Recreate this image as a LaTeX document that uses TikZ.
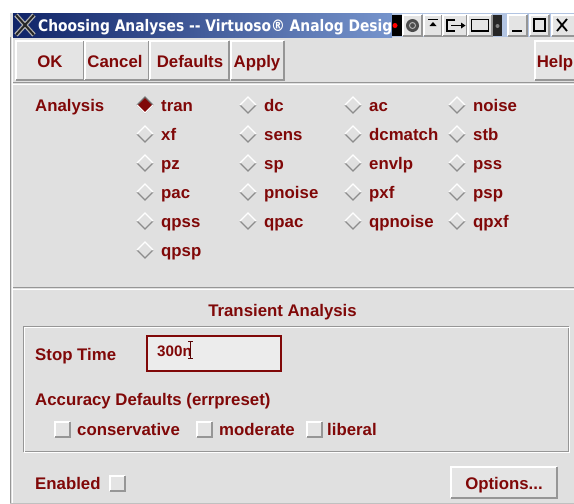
\documentclass[tikz,border=0pt]{standalone}
\usepackage{fontspec}
\setmainfont{Liberation Sans}
\newfontfamily\titlefont[FakeStretch=0.87]{DejaVu Sans}

\definecolor{guitext}{RGB}{128,8,8}
\definecolor{guibg}{RGB}{224,224,224}
\definecolor{guidark}{RGB}{150,150,150}
\definecolor{guibtn}{RGB}{228,228,228}
\definecolor{titleleft}{RGB}{16,36,104}
\definecolor{titleright}{RGB}{118,148,204}
\definecolor{titleicon}{RGB}{178,196,226}

\tikzset{
  lbl/.style={anchor=base west, inner sep=0pt, text=guitext,
    font=\fontsize{16.8}{18}\selectfont\bfseries},
  btnlbl/.style={lbl, anchor=base},
  radiohi/.style={draw=white, line width=1.3},
  radiolo/.style={draw=black!45, line width=1.3},
  etched/.style={draw=guidark, line width=1}
}

% raised box: x1 y1 x2 y2
\newcommand\bevelbox[4]{%
  \fill[guibtn] (#1,#2) rectangle (#3,#4);
  \draw[white, line width=1.2] (#1,#4) -- (#1,#2) -- (#3,#2);
  \draw[guidark, line width=1.2] (#3,#2) -- (#3,#4) -- (#1,#4);
}

\begin{document}
\begin{tikzpicture}[x=1pt,y=-1pt]
  \useasboundingbox (0,0) rectangle (574,504);
  \clip (0,0) rectangle (574,504);
  \fill[white] (0,0) rectangle (574,504);

  % window body
  \fill[guibg] (10,13) rectangle (574,504);
  \draw[guidark] (10.5,37) -- (10.5,504);
  \draw[white] (12,37) -- (12,504);

  % title bar
  \shade[left color=titleleft, right color=titleright] (13,13) rectangle (392,37);
  \fill[titleicon] (392,13) rectangle (574,37);
  \draw[line width=4.5, black!30] (16,15) -- (34,35) (34,15) -- (16,35);
  \draw[line width=2, black!85] (16,15) -- (34,35) (34,15) -- (16,35);
  \begin{scope}
    \clip (13,13) rectangle (392,37);
    \node[anchor=base west, inner sep=0pt, text=white,
      font=\titlefont\bfseries\fontsize{15.9}{17}\selectfont]
      (title) at (38,31) {Choosing Analyses -\kern0pt- Virtuoso® Analog Desig};
  \end{scope}

  % window icons
  \fill[black] (392,15) rectangle (402,36);
  \fill[red] (395,25.5) circle (2.5);
  \bevelbox{403}{15}{422}{36}
  \fill[black!70] (412.5,25.5) circle (6.5);
  \draw[black!30, line width=1] (412.5,25.5) circle (3);
  \bevelbox{424}{15}{442}{36}
  \draw[line width=1.2] (428,19.5) -- (438,19.5);
  \fill (429.5,26) -- (436.5,26) -- (433,22) -- cycle;
  \bevelbox{443}{15}{467}{36}
  \draw[line width=1.1] (455,20) -- (447,20) -- (447,31) -- (455,31);
  \draw[line width=1.2] (451,25.5) -- (462,25.5);
  \fill (461,22.5) -- (465.5,25.5) -- (461,28.5) -- cycle;
  \bevelbox{468}{15}{492}{36}
  \draw[line width=1.2] (471.5,19.5) rectangle (488.5,31);
  \fill[black!85] (493,15) rectangle (502,36);
  \fill[gray] (497.5,26) circle (2);
  \bevelbox{508}{15}{527}{36}
  \draw[line width=2] (512,31) -- (522,31);
  \bevelbox{530}{15}{549}{36}
  \draw[line width=1.3] (534,19) rectangle (545,31);
  \bevelbox{552}{15}{576}{36}
  \draw[line width=1.8] (557,19) -- (567,31) (567,19) -- (557,31);

  % button row
  \bevelbox{16}{41}{84}{80}
  \bevelbox{85}{41}{149}{80}
  \bevelbox{150}{41}{229}{80}
  \bevelbox{231}{41}{284}{80}
  \bevelbox{535}{41}{580}{80}
  \node[btnlbl] (ok) at (50,67) {OK};
  \node[btnlbl] (cancel) at (115,67) {Cancel};
  \node[btnlbl] (defaults) at (190,67) {Defaults};
  \node[btnlbl] (apply) at (257,67) {Apply};
  \node[btnlbl] (help) at (555,67) {Help};
  \draw[etched] (13,82.5) -- (574,82.5);
  \draw[white] (13,83.7) -- (574,83.7);

  % analysis choice
  \node[lbl] (analysis) at (35,111.5) {Analysis};
  \foreach \nm/\cx/\cy in {tran/145/105, xf/145/134, pz/145/163, pac/145/192,
      qpss/145/221, qpsp/145/250, dc/248/105, sens/248/134, sp/248/163,
      pnoise/248/192, qpac/248/221, ac/353/105, dcmatch/353/134, envlp/353/163,
      pxf/353/192, qpnoise/353/221, noise/457/105, stb/457/134, pss/457/163,
      psp/457/192, qpxf/457/221}
  {
    \draw[radiolo] (\cx-8,\cy) -- (\cx,\cy+8) -- (\cx+8,\cy);
    \draw[radiohi] (\cx-8,\cy) -- (\cx,\cy-8) -- (\cx+8,\cy);
    \node[lbl] (\nm) at (\cx+16,\cy+6.5) {\nm};
  }
  % selected one
  \fill[guitext] (137,105) -- (145,97) -- (153,105) -- (145,113) -- cycle;
  \draw[black!55, line width=1.3] (137,105) -- (145,97) -- (153,105);
  \draw[white, line width=1.3] (137,105) -- (145,113) -- (153,105);

  \draw[etched] (13,287.5) -- (574,287.5);
  \draw[white] (13,288.7) -- (574,288.7);

  % transient options
  \node[btnlbl] (transient) at (282.5,316) {Transient Analysis};
  \draw[etched] (23,326) rectangle (568,451);
  \draw[white] (24.2,327.2) rectangle (569.2,452.2);

  \node[lbl] (stoptime) at (35,360) {Stop Time};
  \draw[guitext, line width=2.4, fill=guibg!60!white] (147,336) rectangle (281,371);
  \node[lbl, font=\fontsize{15.2}{17}\selectfont\bfseries] (stopval) at (157,356) {300n};
  \draw[guitext!70!black, line width=0.8] (188,341) -- (193,341)
    (190.5,341) -- (190.5,358) (188,358) -- (193,358);

  \node[lbl] (accuracy) at (35,405.5) {Accuracy Defaults (errpreset)};
  \bevelbox{55}{422}{70}{437}
  \node[lbl] (conservative) at (77,435) {conservative};
  \bevelbox{197}{422}{212}{437}
  \node[lbl] (moderate) at (219,435) {moderate};
  \bevelbox{307}{422}{322}{437}
  \node[lbl] (liberal) at (327,435) {liberal};

  % bottom row
  \node[lbl] (enabled) at (35,489.5) {Enabled};
  \bevelbox{110}{476}{125}{491}
  \bevelbox{451}{467}{557}{498}
  \node[btnlbl] (options) at (504,489.5) {Options...};
  \draw[guidark!60] (10,503) -- (574,503);
\end{tikzpicture}
\end{document}
